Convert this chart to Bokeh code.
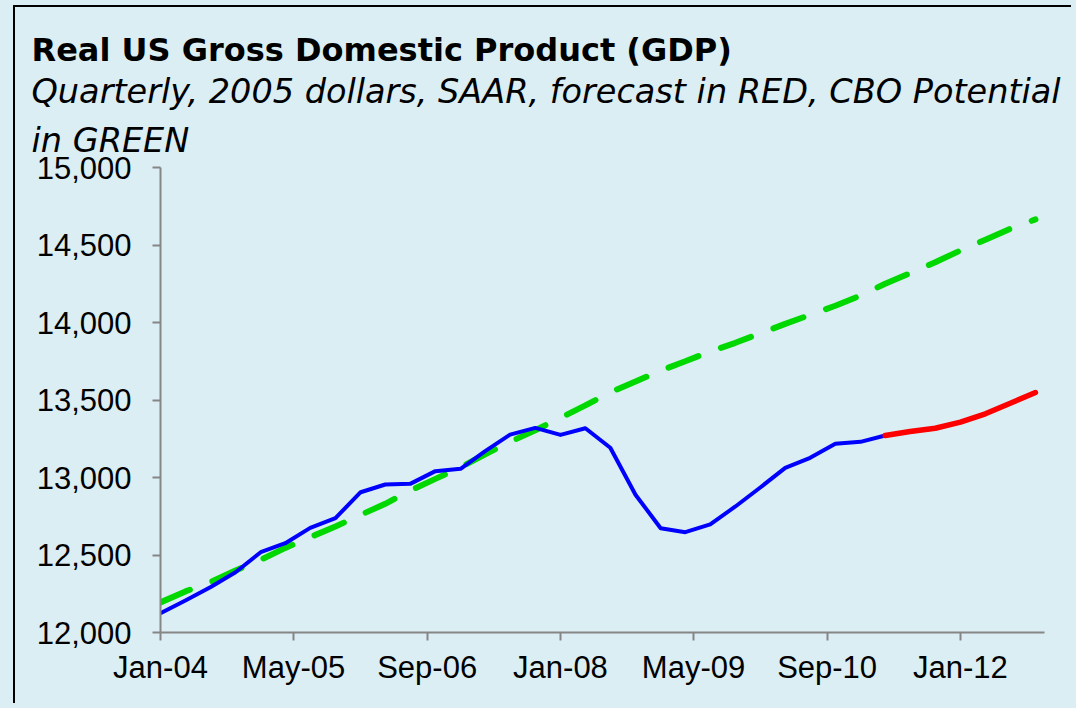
import pandas as pd
from bokeh.plotting import figure
from bokeh.models import (Range1d, FixedTicker, DatetimeTickFormatter, NumeralTickFormatter,
                          Title, ColumnDataSource, GlobalInlineStyleSheet)
from bokeh.embed import file_html
from bokeh.resources import INLINE

# ---------------- data ----------------
title_text = "Real US Gross Domestic Product (GDP)"
subtitle_line1 = "Quarterly, 2005 dollars, SAAR, forecast in RED, CBO Potential"
subtitle_line2 = "in GREEN"

quarters = ["2004-01-01", "2004-04-01", "2004-07-01", "2004-10-01",
            "2005-01-01", "2005-04-01", "2005-07-01", "2005-10-01",
            "2006-01-01", "2006-04-01", "2006-07-01", "2006-10-01",
            "2007-01-01", "2007-04-01", "2007-07-01", "2007-10-01",
            "2008-01-01", "2008-04-01", "2008-07-01", "2008-10-01",
            "2009-01-01", "2009-04-01", "2009-07-01", "2009-10-01",
            "2010-01-01", "2010-04-01", "2010-07-01", "2010-10-01",
            "2011-01-01", "2011-04-01", "2011-07-01", "2011-10-01",
            "2012-01-01", "2012-04-01", "2012-07-01", "2012-10-01"]

# actual real GDP (blue), 2004Q1 .. 2011Q2
actual_gdp = [12124, 12206, 12292, 12389, 12518, 12576, 12675, 12738,
              12905, 12955, 12959, 13041, 13056, 13170, 13277, 13320,
              13275, 13318, 13192, 12889, 12673, 12647, 12697, 12813,
              12937, 13062, 13127, 13217, 13230, 13271]

# forecast (red), 2011Q2 .. 2012Q4
forecast_gdp = [13271, 13297, 13318, 13357, 13411, 13479, 13548]

# CBO potential (green), 2004Q1 .. 2012Q4
potential_gdp = [12194, 12265, 12325, 12400, 12469, 12546, 12615, 12684,
                 12759, 12830, 12916, 12991, 13066, 13150, 13230, 13305,
                 13385, 13465, 13550, 13619, 13690, 13750, 13813, 13869,
                 13931, 13991, 14050, 14108, 14174, 14250, 14318, 14389,
                 14465, 14534, 14605, 14665]

tick_dates = ["2004-01-01", "2005-05-01", "2006-09-01", "2008-01-01",
              "2009-05-01", "2010-09-01", "2012-01-01"]
y_ticks = [12000, 12500, 13000, 13500, 14000, 14500, 15000]

x_start = "2004-01-01"
x_end = "2012-11-03"
y_start, y_end = 12000, 15000

# ---------------- figure ----------------
BG = "#DAEEF3"
dates = pd.to_datetime(quarters)

p = figure(width=1058, height=698, x_axis_type="datetime", title=None,
           output_backend="svg", toolbar_location=None,
           x_range=Range1d(pd.Timestamp(x_start), pd.Timestamp(x_end)),
           y_range=Range1d(y_start, y_end),
           min_border_left=145, min_border_right=29,
           min_border_top=160, min_border_bottom=73)
p.background_fill_color = BG
p.border_fill_color = BG
p.outline_line_color = None
p.grid.visible = False
p.styles = {"border-left": "2px solid black", "border-top": "2px solid black",
            "margin-left": "13px", "margin-top": "5px"}
p.stylesheets = [GlobalInlineStyleSheet(css="body { background-color: %s; }" % BG)]

src_actual = ColumnDataSource(dict(x=dates[:len(actual_gdp)], y=actual_gdp))
src_fc = ColumnDataSource(dict(x=dates[len(actual_gdp) - 1:], y=forecast_gdp))
src_pot = ColumnDataSource(dict(x=dates, y=potential_gdp))

p.line("x", "y", source=src_pot, line_color="#00D800", line_width=6,
       line_dash="32 24", line_cap="round")
p.line("x", "y", source=src_actual, line_color="#0000FF", line_width=4,
       line_join="round")
p.line("x", "y", source=src_fc, line_color="#FF0000", line_width=5.5,
       line_join="round", line_cap="round")

# axes
p.xaxis.ticker = FixedTicker(ticks=[pd.Timestamp(d).value / 1e6 for d in tick_dates])
fmt = "%b-%y"
p.xaxis.formatter = DatetimeTickFormatter(milliseconds=fmt, seconds=fmt, minsec=fmt,
                                          minutes=fmt, hourmin=fmt, hours=fmt, days=fmt,
                                          months=fmt, years=fmt)
p.yaxis.ticker = FixedTicker(ticks=y_ticks)
p.yaxis.formatter = NumeralTickFormatter(format="0,0")

for ax in (p.xaxis, p.yaxis):
    ax.axis_line_color = "#868686"
    ax.axis_line_width = 2
    ax.major_tick_line_color = "#868686"
    ax.major_tick_line_width = 2
    ax.major_tick_out = 8
    ax.major_tick_in = 0
    ax.minor_tick_line_color = None
    ax.major_label_text_font = "Liberation Sans"
    ax.major_label_text_font_size = "31px"
    ax.major_label_text_color = "black"

p.yaxis.major_label_standoff = 21
p.xaxis.major_label_standoff = 9

# titles: first added sits closest to the plot frame
p.add_layout(Title(text=subtitle_line2, text_font="DejaVu Sans", text_font_style="italic",
                   text_font_size="33.5px", text_color="black", align="left",
                   offset=-129, standoff=16), "above")
p.add_layout(Title(text=subtitle_line1, text_font="DejaVu Sans", text_font_style="italic",
                   text_font_size="33.5px", text_color="black", align="left",
                   offset=-129, standoff=0), "above")
p.add_layout(Title(text=title_text, text_font="DejaVu Sans", text_font_style="bold",
                   text_font_size="32px", text_color="black", align="left",
                   offset=-129, standoff=2), "above")

open("out.html", "w").write(file_html(p, INLINE))
